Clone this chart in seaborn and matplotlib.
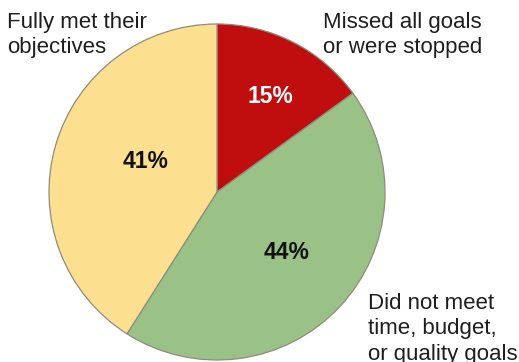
import numpy as np
import matplotlib
matplotlib.use("Agg")
import matplotlib.pyplot as plt
import seaborn as sns

# Data
categories = ["Missed all goals\nor were stopped",
              "Did not meet\ntime, budget,\nor quality goals",
              "Fully met their\nobjectives"]
values = [15, 44, 41]
pct_labels = ["15%", "44%", "41%"]

colors = ["#C00D0D", "#9BC286", "#FDE08F"]
pct_colors = ["white", "#111111", "#111111"]
pct_dist = [0.65, 0.55, 0.46]
pct_angle_nudge = [-2, 2, -7]  # degrees

sns.set_theme(style="white")
plt.rcParams["font.family"] = ["Liberation Sans", "DejaVu Sans"]

W, H = 519, 362
fig = plt.figure(figsize=(W / 100, H / 100), dpi=100)
ax = fig.add_axes([0, 0, 1, 1])

cx, cy_px, r = 217, 192, 168
cy = H - cy_px

wedges, _ = ax.pie(values, colors=colors, startangle=90, counterclock=False,
                   center=(cx, cy), radius=r, frame=True,
                   wedgeprops=dict(edgecolor="#8C8C7C", linewidth=0.9))
ax.set_xlim(0, W)
ax.set_ylim(0, H)
ax.set_aspect("equal")
ax.axis("off")

for w, lab, col, d, nud in zip(wedges, pct_labels, pct_colors, pct_dist, pct_angle_nudge):
    ang = np.deg2rad((w.theta1 + w.theta2) / 2 + nud)
    x = cx + d * r * np.cos(ang)
    y = cy + d * r * np.sin(ang)
    ax.text(x, y, lab, ha="center", va="center", fontsize=16.5,
            fontweight="bold", color=col)

label_pos = [(323, 12), (368, 293), (7, 12)]
for lab, (x, ypx) in zip(categories, label_pos):
    ax.text(x, H - ypx, lab, ha="left", va="top", fontsize=16,
            color="#1E1E1E", linespacing=1.27)

fig.savefig("out.png", dpi=100)
